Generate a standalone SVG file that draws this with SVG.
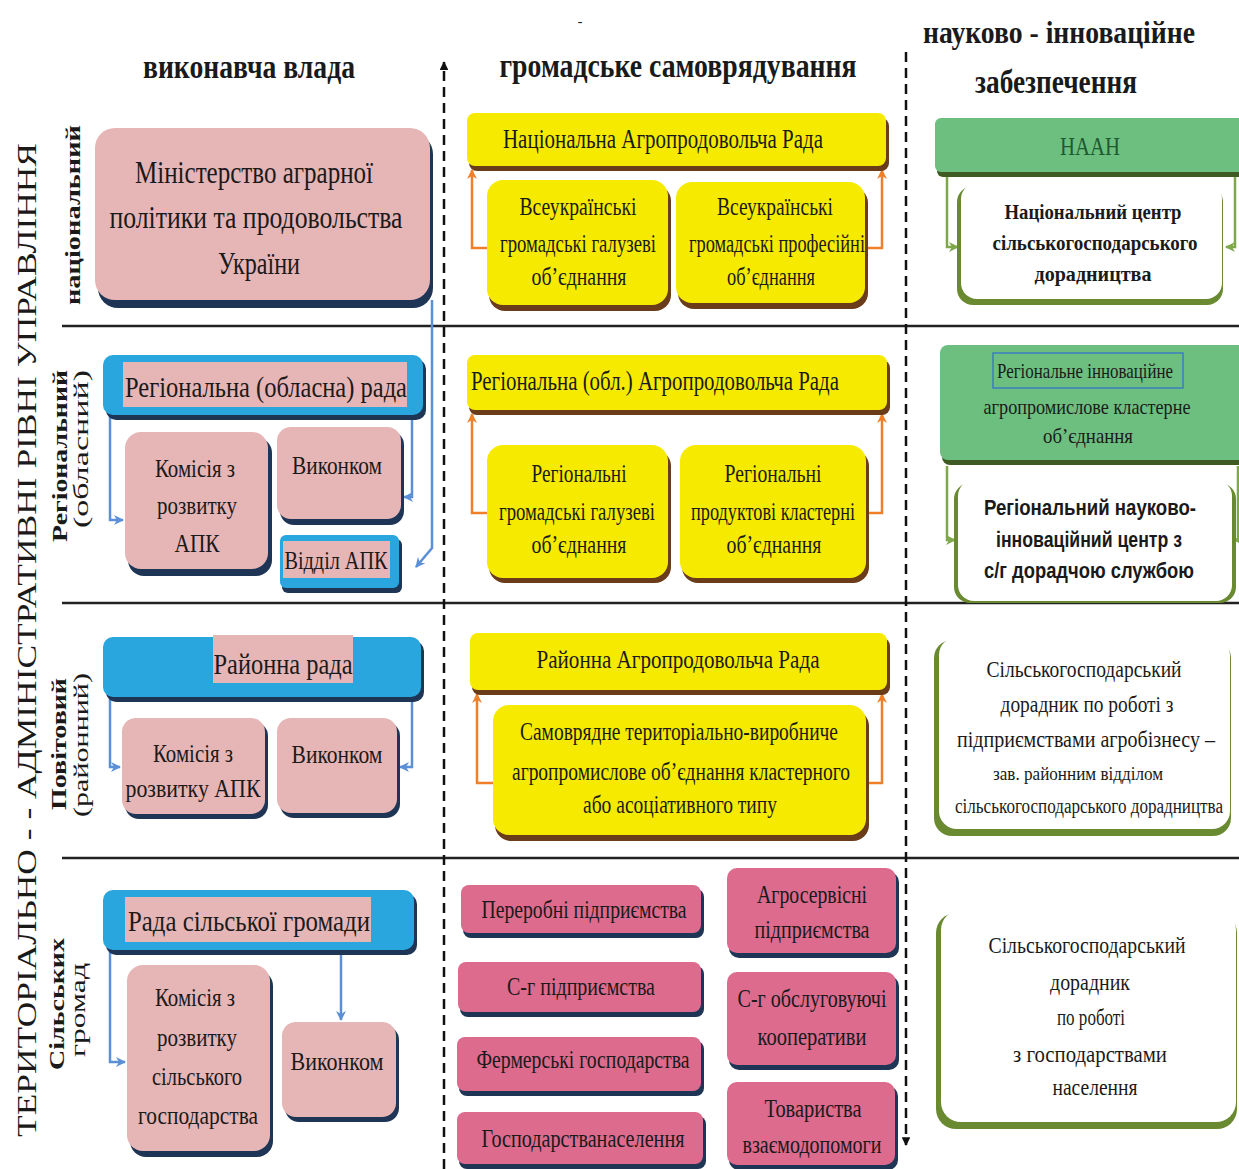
<svg xmlns="http://www.w3.org/2000/svg" width="1239" height="1169" viewBox="0 0 1239 1169">
<defs>
<marker id="mb" viewBox="0 0 10 10" refX="9" refY="5" markerWidth="4" markerHeight="4" orient="auto" markerUnits="strokeWidth"><path d="M0,0 L10,5 L0,10 L3,5 z" fill="#5b8fd6"/></marker>
<marker id="mo" viewBox="0 0 10 10" refX="9" refY="5" markerWidth="4" markerHeight="4" orient="auto" markerUnits="strokeWidth"><path d="M0,0 L10,5 L0,10 L3,5 z" fill="#f07f2a"/></marker>
<marker id="mg" viewBox="0 0 10 10" refX="9" refY="5" markerWidth="4" markerHeight="4" orient="auto" markerUnits="strokeWidth"><path d="M0,0 L10,5 L0,10 L3,5 z" fill="#7ea84a"/></marker>
<marker id="mk" viewBox="0 0 10 10" refX="9" refY="5" markerWidth="3.5" markerHeight="3.5" orient="auto" markerUnits="strokeWidth"><path d="M0,0 L10,5 L0,10 z" fill="#111"/></marker>
</defs>
<style>
text{font-family:"Liberation Serif","DejaVu Serif",serif;fill:#1a1a1a;}
.c{text-anchor:middle;}
.b{font-weight:bold;}
.sans{font-family:"Liberation Sans","DejaVu Sans",sans-serif;}
.sep{stroke:#222;stroke-width:2.5;fill:none;}
.dash{stroke:#111;stroke-width:2.5;stroke-dasharray:10 6;fill:none;}
.pk{fill:#e6b5b6;}
.nv{fill:#1f3556;}
.bl{fill:#2aa6df;}
.yl{fill:#f6eb00;}
.br{fill:#6b3c1a;}
.mg{fill:#dc6b8e;}
.gr{fill:#6dbf80;}
.gs{fill:#3f5a22;}
.wh{fill:#ffffff;}
.ws{fill:#6a8a32;}
.cb{stroke:#5b8fd6;stroke-width:2.5;fill:none;marker-end:url(#mb);}
.co{stroke:#f07f2a;stroke-width:2.5;fill:none;marker-end:url(#mo);}
.cg{stroke:#7ea84a;stroke-width:2.5;fill:none;marker-end:url(#mg);}
</style>
<rect width="1239" height="1169" fill="#ffffff"/>

<!-- separators and column dividers -->
<g id="grid">
<line class="sep" x1="62" y1="326" x2="1239" y2="326"/>
<line class="sep" x1="62" y1="603" x2="1239" y2="603"/>
<line class="sep" x1="62" y1="858" x2="1239" y2="858"/>
<line class="dash" x1="444" y1="1169" x2="444" y2="62" marker-end="url(#mk)"/>
<line class="dash" x1="906" y1="52" x2="906" y2="1145" marker-end="url(#mk)"/>
<text x="580" y="26" class="c" font-size="14">-</text>
</g>

<!-- headers -->
<g id="headers">
<text x="249" y="78" class="c b" font-size="34" textLength="212" lengthAdjust="spacingAndGlyphs">виконавча влада</text>
<text x="678" y="77" class="c b" font-size="34" textLength="357" lengthAdjust="spacingAndGlyphs">громадське самоврядування</text>
<text x="1059" y="43" class="c b" font-size="32" textLength="272" lengthAdjust="spacingAndGlyphs">науково - інноваційне</text>
<text x="1056" y="93" class="c b" font-size="34" textLength="162" lengthAdjust="spacingAndGlyphs">забезпечення</text>
</g>

<!-- side labels -->
<g id="side-labels">
<text transform="translate(36,640) rotate(-90)" class="c" font-size="27" textLength="994" lengthAdjust="spacingAndGlyphs">ТЕРИТОРІАЛЬНО -  - АДМІНІСТРАТИВНІ РІВНІ УПРАВЛІННЯ</text>
<text transform="translate(80,215) rotate(-90)" class="c b" font-size="20" textLength="180" lengthAdjust="spacingAndGlyphs">національний</text>
<text transform="translate(67,456) rotate(-90)" class="c b" font-size="22" textLength="172" lengthAdjust="spacingAndGlyphs">Регіональний</text>
<text transform="translate(88,449) rotate(-90)" class="c" font-size="20" textLength="158" lengthAdjust="spacingAndGlyphs">(обласний)</text>
<text transform="translate(66,744) rotate(-90)" class="c b" font-size="22" textLength="132" lengthAdjust="spacingAndGlyphs">Повітовий</text>
<text transform="translate(88,745) rotate(-90)" class="c" font-size="20" textLength="144" lengthAdjust="spacingAndGlyphs">(районний)</text>
<text transform="translate(64,1004) rotate(-90)" class="c b" font-size="22" textLength="132" lengthAdjust="spacingAndGlyphs">Сільських</text>
<text transform="translate(85,1010) rotate(-90)" class="c" font-size="20" textLength="94" lengthAdjust="spacingAndGlyphs">громад</text>
</g>

<!-- connectors -->
<g id="connectors">
<path class="cb" d="M432,300 V548 L416,567"/>
<path class="cb" d="M110,417 V520 H123"/>
<path class="cb" d="M412,417 V497 H404"/>
<path class="cb" d="M110,699 V767 H120"/>
<path class="cb" d="M412,699 V767 H400"/>
<path class="cb" d="M110,952 V1062 H125"/>
<path class="cb" d="M341,952 V1020"/>
<path class="co" d="M487,248 H472 V170"/>
<path class="co" d="M866,248 H882 V170"/>
<path class="co" d="M487,513 H472 V414"/>
<path class="co" d="M867,513 H882 V414"/>
<path class="co" d="M493,783 H477 V694"/>
<path class="co" d="M867,783 H882 V694"/>
<path class="cg" d="M947,176 V247 H958"/>
<path class="cg" d="M1235,176 V247 H1226"/>
<path class="cg" d="M947,466 V540 H955"/>
<path class="cg" d="M1238,466 V540 H1234"/>
</g>

<!-- column 1: executive power -->
<g id="ministry">
<rect class="nv" x="98" y="134" width="335" height="174" rx="20"/>
<rect class="pk" x="95" y="128" width="335" height="172" rx="20"/>
<text x="254" y="183" class="c" font-size="32" textLength="238" lengthAdjust="spacingAndGlyphs">Міністерство аграрної</text>
<text x="256" y="228" class="c" font-size="32" textLength="293" lengthAdjust="spacingAndGlyphs">політики та   продовольства</text>
<text x="259" y="274" class="c" font-size="32" textLength="82" lengthAdjust="spacingAndGlyphs">України</text>
</g>
<g id="reg-council">
<rect class="nv" x="106" y="359" width="320" height="61" rx="10"/>
<rect class="bl" x="103" y="355" width="320" height="60" rx="10"/>
<rect class="pk" x="123" y="362" width="284" height="45"/>
<text x="266" y="397" class="c" font-size="30" textLength="282" lengthAdjust="spacingAndGlyphs">Регіональна (обласна) рада</text>
</g>
<g id="reg-komisia">
<rect class="nv" x="128" y="437" width="144" height="139" rx="16"/>
<rect class="pk" x="125" y="432" width="143" height="137" rx="16"/>
<text x="195" y="477" class="c" font-size="26" textLength="80" lengthAdjust="spacingAndGlyphs">Комісія з</text>
<text x="197" y="514" class="c" font-size="26" textLength="80" lengthAdjust="spacingAndGlyphs">розвитку</text>
<text x="197" y="552" class="c" font-size="26" textLength="45" lengthAdjust="spacingAndGlyphs">АПК</text>
</g>
<g id="reg-vykonkom">
<rect class="nv" x="280" y="431" width="124" height="94" rx="14"/>
<rect class="pk" x="277" y="427" width="124" height="92" rx="14"/>
<text x="337" y="474" class="c" font-size="26" textLength="90" lengthAdjust="spacingAndGlyphs">Виконком</text>
</g>
<g id="reg-viddil">
<rect class="nv" x="282" y="539" width="120" height="54" rx="6"/>
<rect class="bl" x="280" y="535" width="119" height="53" rx="6"/>
<rect class="pk" x="283" y="541" width="107" height="37"/>
<text x="336" y="569" class="c" font-size="26" textLength="103" lengthAdjust="spacingAndGlyphs">Відділ АПК</text>
</g>
<g id="ray-council">
<rect class="nv" x="106" y="641" width="318" height="61" rx="10"/>
<rect class="bl" x="103" y="637" width="318" height="60" rx="10"/>
<rect class="pk" x="213" y="635" width="140" height="48"/>
<text x="283" y="674" class="c" font-size="30" textLength="139" lengthAdjust="spacingAndGlyphs">Районна рада</text>
</g>
<g id="ray-komisia">
<rect class="nv" x="125" y="722" width="143" height="97" rx="14"/>
<rect class="pk" x="122" y="718" width="143" height="96" rx="14"/>
<text x="193" y="762" class="c" font-size="26" textLength="80" lengthAdjust="spacingAndGlyphs">Комісія з</text>
<text x="193" y="797" class="c" font-size="26" textLength="135" lengthAdjust="spacingAndGlyphs">розвитку АПК</text>
</g>
<g id="ray-vykonkom">
<rect class="nv" x="280" y="722" width="120" height="96" rx="14"/>
<rect class="pk" x="277" y="718" width="120" height="95" rx="14"/>
<text x="337" y="763" class="c" font-size="26" textLength="91" lengthAdjust="spacingAndGlyphs">Виконком</text>
</g>
<g id="sil-council">
<rect class="nv" x="106" y="894" width="311" height="61" rx="10"/>
<rect class="bl" x="103" y="890" width="311" height="60" rx="10"/>
<rect class="pk" x="125" y="897" width="246" height="45"/>
<text x="249" y="931" class="c" font-size="30" textLength="242" lengthAdjust="spacingAndGlyphs">Рада сільської громади</text>
</g>
<g id="sil-komisia">
<rect class="nv" x="130" y="970" width="143" height="187" rx="16"/>
<rect class="pk" x="127" y="965" width="143" height="186" rx="16"/>
<text x="195" y="1006" class="c" font-size="26" textLength="80" lengthAdjust="spacingAndGlyphs">Комісія з</text>
<text x="197" y="1046" class="c" font-size="26" textLength="80" lengthAdjust="spacingAndGlyphs">розвитку</text>
<text x="197" y="1085" class="c" font-size="26" textLength="90" lengthAdjust="spacingAndGlyphs">сільського</text>
<text x="198" y="1124" class="c" font-size="26" textLength="120" lengthAdjust="spacingAndGlyphs">господарства</text>
</g>
<g id="sil-vykonkom">
<rect class="nv" x="285" y="1026" width="114" height="96" rx="14"/>
<rect class="pk" x="282" y="1022" width="114" height="95" rx="14"/>
<text x="337" y="1070" class="c" font-size="26" textLength="93" lengthAdjust="spacingAndGlyphs">Виконком</text>
</g>

<!-- column 2: public self-government -->
<g id="nat-agro-rada">
<rect class="br" x="469" y="118" width="420" height="53" rx="8"/>
<rect class="yl" x="467" y="113" width="419" height="53" rx="8"/>
<text x="663" y="148" class="c" font-size="27" textLength="320" lengthAdjust="spacingAndGlyphs">Національна Агропродовольча Рада</text>
</g>
<g id="vse-haluzevi">
<rect class="br" x="489" y="185" width="182" height="126" rx="16"/>
<rect class="yl" x="487" y="180" width="181" height="125" rx="16"/>
<text x="578" y="215" class="c" font-size="25" textLength="117" lengthAdjust="spacingAndGlyphs">Всеукраїнські</text>
<text x="578" y="252" class="c" font-size="25" textLength="156" lengthAdjust="spacingAndGlyphs">громадські галузеві</text>
<text x="579" y="285" class="c" font-size="25" textLength="95" lengthAdjust="spacingAndGlyphs">об’єднання</text>
</g>
<g id="vse-profesiini">
<rect class="br" x="678" y="187" width="190" height="122" rx="16"/>
<rect class="yl" x="676" y="182" width="189" height="121" rx="16"/>
<text x="775" y="215" class="c" font-size="25" textLength="116" lengthAdjust="spacingAndGlyphs">Всеукраїнські</text>
<text x="777" y="252" class="c" font-size="25" textLength="176" lengthAdjust="spacingAndGlyphs">громадські професійні</text>
<text x="771" y="285" class="c" font-size="25" textLength="88" lengthAdjust="spacingAndGlyphs">об’єднання</text>
</g>
<g id="reg-agro-rada">
<rect class="br" x="469" y="360" width="421" height="55" rx="8"/>
<rect class="yl" x="467" y="355" width="420" height="55" rx="8"/>
<text x="471" y="390" font-size="27" textLength="368" lengthAdjust="spacingAndGlyphs">Регіональна (обл.) Агропродовольча Рада</text>
</g>
<g id="reg-haluzevi">
<rect class="br" x="489" y="450" width="182" height="133" rx="16"/>
<rect class="yl" x="487" y="445" width="181" height="133" rx="16"/>
<text x="579" y="482" class="c" font-size="25" textLength="95" lengthAdjust="spacingAndGlyphs">Регіональні</text>
<text x="577" y="520" class="c" font-size="25" textLength="156" lengthAdjust="spacingAndGlyphs">громадські галузеві</text>
<text x="579" y="553" class="c" font-size="25" textLength="95" lengthAdjust="spacingAndGlyphs">об’єднання</text>
</g>
<g id="reg-klasterni">
<rect class="br" x="682" y="450" width="187" height="133" rx="16"/>
<rect class="yl" x="680" y="445" width="186" height="133" rx="16"/>
<text x="773" y="482" class="c" font-size="25" textLength="97" lengthAdjust="spacingAndGlyphs">Регіональні</text>
<text x="773" y="520" class="c" font-size="25" textLength="164" lengthAdjust="spacingAndGlyphs">продуктові кластерні</text>
<text x="774" y="553" class="c" font-size="25" textLength="95" lengthAdjust="spacingAndGlyphs">об’єднання</text>
</g>
<g id="ray-agro-rada">
<rect class="br" x="472" y="638" width="418" height="57" rx="8"/>
<rect class="yl" x="470" y="633" width="417" height="57" rx="8"/>
<text x="678" y="668" class="c" font-size="26" textLength="283" lengthAdjust="spacingAndGlyphs">Районна Агропродовольча Рада</text>
</g>
<g id="samovriadne">
<rect class="br" x="495" y="710" width="374" height="131" rx="16"/>
<rect class="yl" x="493" y="705" width="373" height="130" rx="16"/>
<text x="679" y="740" class="c" font-size="25" textLength="318" lengthAdjust="spacingAndGlyphs">Самоврядне територіально-виробниче</text>
<text x="681" y="780" class="c" font-size="25" textLength="338" lengthAdjust="spacingAndGlyphs">агропромислове об’єднання кластерного</text>
<text x="680" y="813" class="c" font-size="25" textLength="194" lengthAdjust="spacingAndGlyphs">або асоціативного типу</text>
</g>
<g id="pererobni">
<rect class="nv" x="463" y="889" width="241" height="49" rx="8"/>
<rect class="mg" x="461" y="885" width="240" height="48" rx="8"/>
<text x="584" y="918" class="c" font-size="25" textLength="205" lengthAdjust="spacingAndGlyphs">Переробні підприємства</text>
</g>
<g id="sg-pidpryiemstva">
<rect class="nv" x="460" y="966" width="244" height="51" rx="8"/>
<rect class="mg" x="458" y="962" width="243" height="50" rx="8"/>
<text x="581" y="995" class="c" font-size="25" textLength="148" lengthAdjust="spacingAndGlyphs">С-г підприємства</text>
</g>
<g id="fermerski">
<rect class="nv" x="459" y="1041" width="245" height="55" rx="8"/>
<rect class="mg" x="457" y="1037" width="244" height="54" rx="8"/>
<text x="583" y="1068" class="c" font-size="25" textLength="213" lengthAdjust="spacingAndGlyphs">Фермерські господарства</text>
</g>
<g id="hospodarstva-naselennia">
<rect class="nv" x="459" y="1116" width="247" height="53" rx="8"/>
<rect class="mg" x="457" y="1112" width="246" height="52" rx="8"/>
<text x="583" y="1147" class="c" font-size="25" textLength="203" lengthAdjust="spacingAndGlyphs">Господарстванаселення</text>
</g>
<g id="agroservisni">
<rect class="nv" x="729" y="872" width="170" height="86" rx="10"/>
<rect class="mg" x="727" y="868" width="169" height="85" rx="10"/>
<text x="812" y="903" class="c" font-size="25" textLength="110" lengthAdjust="spacingAndGlyphs">Агросервісні</text>
<text x="812" y="938" class="c" font-size="25" textLength="115" lengthAdjust="spacingAndGlyphs">підприємства</text>
</g>
<g id="obsluhovuiuchi">
<rect class="nv" x="729" y="976" width="170" height="94" rx="10"/>
<rect class="mg" x="727" y="972" width="169" height="93" rx="10"/>
<text x="812" y="1007" class="c" font-size="25" textLength="149" lengthAdjust="spacingAndGlyphs">С-г обслуговуючі</text>
<text x="812" y="1045" class="c" font-size="25" textLength="109" lengthAdjust="spacingAndGlyphs">кооперативи</text>
</g>
<g id="tovarystva">
<rect class="nv" x="729" y="1086" width="169" height="84" rx="10"/>
<rect class="mg" x="727" y="1082" width="168" height="83" rx="10"/>
<text x="813" y="1117" class="c" font-size="25" textLength="97" lengthAdjust="spacingAndGlyphs">Товариства</text>
<text x="812" y="1153" class="c" font-size="25" textLength="139" lengthAdjust="spacingAndGlyphs">взаємодопомоги</text>
</g>

<!-- column 3: science and innovation -->
<g id="naan">
<rect class="gs" x="937" y="123" width="310" height="54" rx="6"/>
<rect class="gr" x="935" y="118" width="310" height="54" rx="6"/>
<text x="1090" y="155" class="c" font-size="26" style="fill:#1e5a30" textLength="60" lengthAdjust="spacingAndGlyphs">НААН</text>
</g>
<g id="nat-centr">
<rect class="ws" x="957" y="186" width="266" height="119" rx="16"/>
<rect class="wh" x="961" y="183" width="261" height="116" rx="16"/>
<text x="1093" y="219" class="c b" font-size="20" textLength="177" lengthAdjust="spacingAndGlyphs">Національний центр</text>
<text x="1095" y="250" class="c b" font-size="20" textLength="205" lengthAdjust="spacingAndGlyphs">сільськогосподарського</text>
<text x="1093" y="281" class="c b" font-size="20" textLength="117" lengthAdjust="spacingAndGlyphs">дорадництва</text>
</g>
<g id="reg-innov">
<rect class="gs" x="942" y="350" width="310" height="115" rx="8"/>
<rect class="gr" x="940" y="345" width="310" height="115" rx="8"/>
<rect x="993" y="353" width="190" height="35" fill="none" stroke="#3b7ec0" stroke-width="1.5"/>
<text x="1085" y="378" class="c" font-size="21" textLength="176" lengthAdjust="spacingAndGlyphs">Регіональне інноваційне</text>
<text x="1087" y="414" class="c" font-size="21" textLength="207" lengthAdjust="spacingAndGlyphs">агропромислове кластерне</text>
<text x="1088" y="443" class="c" font-size="21" textLength="90" lengthAdjust="spacingAndGlyphs">об’єднання</text>
</g>
<g id="reg-centr">
<rect class="ws" x="954" y="483" width="282" height="120" rx="16"/>
<rect class="wh" x="958" y="480" width="274" height="121" rx="16"/>
<text x="1090" y="515" class="c b sans" font-size="22" textLength="212" lengthAdjust="spacingAndGlyphs">Регіональний науково-</text>
<text x="1089" y="547" class="c b sans" font-size="22" textLength="186" lengthAdjust="spacingAndGlyphs">інноваційний центр з</text>
<text x="1089" y="578" class="c b sans" font-size="22" textLength="210" lengthAdjust="spacingAndGlyphs">с/г дорадчою службою</text>
</g>
<g id="dorad-ahrobiznes">
<rect class="ws" x="934" y="640" width="297" height="196" rx="18"/>
<rect class="wh" x="939" y="637" width="291" height="192" rx="18"/>
<text x="1084" y="677" class="c" font-size="24" textLength="195" lengthAdjust="spacingAndGlyphs">Сільськогосподарський</text>
<text x="1087" y="712" class="c" font-size="24" textLength="173" lengthAdjust="spacingAndGlyphs">дорадник по роботі з</text>
<text x="957" y="747" font-size="23" textLength="258" lengthAdjust="spacingAndGlyphs">підприємствами агробізнесу   –</text>
<text x="993" y="780" font-size="19" textLength="170" lengthAdjust="spacingAndGlyphs">зав. районним відділом</text>
<text x="1089" y="813" class="c" font-size="20" textLength="268" lengthAdjust="spacingAndGlyphs">сільськогосподарського дорадництва</text>
</g>
<g id="dorad-naselennia">
<rect class="ws" x="936" y="913" width="301" height="216" rx="20"/>
<rect class="wh" x="941" y="910" width="295" height="212" rx="20"/>
<text x="1087" y="953" class="c" font-size="24" textLength="197" lengthAdjust="spacingAndGlyphs">Сільськогосподарський</text>
<text x="1090" y="990" class="c" font-size="24" textLength="80" lengthAdjust="spacingAndGlyphs">дорадник</text>
<text x="1091" y="1025" class="c" font-size="24" textLength="68" lengthAdjust="spacingAndGlyphs">по роботі</text>
<text x="1090" y="1062" class="c" font-size="24" textLength="154" lengthAdjust="spacingAndGlyphs">з господарствами</text>
<text x="1095" y="1095" class="c" font-size="24" textLength="85" lengthAdjust="spacingAndGlyphs">населення</text>
</g>
</svg>
